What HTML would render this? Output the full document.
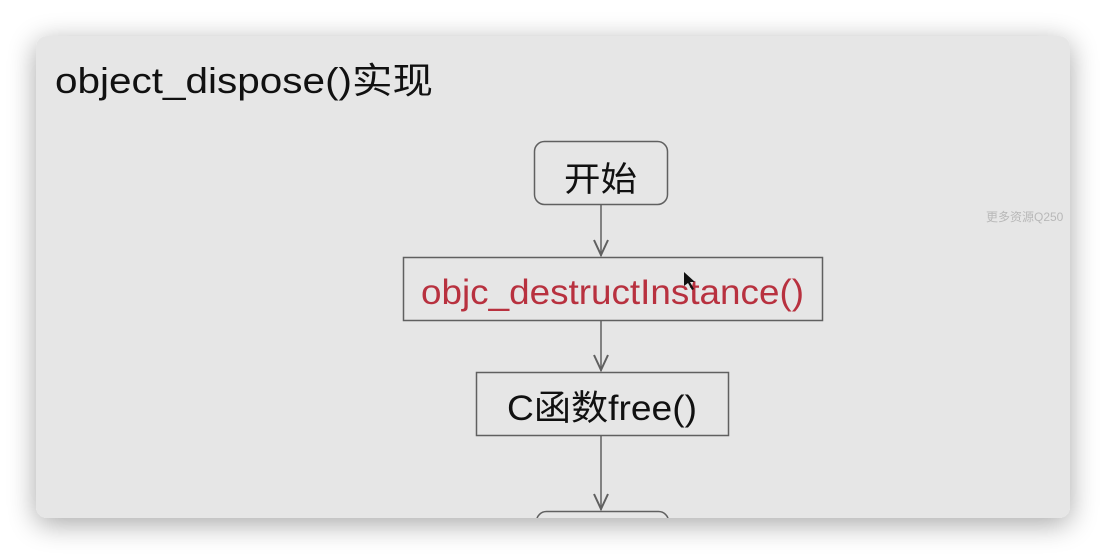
<!DOCTYPE html>
<html><head><meta charset="utf-8"><style>
html,body{margin:0;padding:0;width:1106px;height:554px;background:#fff;overflow:hidden}
</style></head><body>
<svg width="1106" height="554" xmlns="http://www.w3.org/2000/svg" style="display:block">
<defs>
<filter id="sh" x="-10%" y="-10%" width="120%" height="130%">
<feGaussianBlur in="SourceAlpha" stdDeviation="14"/>
<feOffset dy="6"/>
<feComponentTransfer><feFuncA type="linear" slope="0.35"/></feComponentTransfer>
<feMerge><feMergeNode/><feMergeNode in="SourceGraphic"/></feMerge>
</filter>
<clipPath id="cp"><rect x="36" y="36" width="1034" height="482" rx="11"/></clipPath>
</defs>
<rect x="36" y="36" width="1034" height="482" rx="11" fill="#e6e6e6" filter="url(#sh)"/>
<g clip-path="url(#cp)" font-family="'Liberation Sans','Noto Sans CJK SC',sans-serif">
<text x="55" y="93" font-size="36" fill="#111" textLength="378" lengthAdjust="spacingAndGlyphs">object_dispose()实现</text>
<text x="986" y="221" font-size="12" fill="#b8b8b8">更多资源Q250</text>
<g stroke="#606060" stroke-width="1.5" fill="none">
<rect x="534.5" y="141.5" width="133" height="63" rx="10"/>
<rect x="403.5" y="257.5" width="419" height="63"/>
<rect x="476.5" y="372.5" width="252" height="63"/>
<rect x="536.5" y="511.5" width="132" height="60" rx="10"/>
<line x1="601" y1="205" x2="601" y2="256"/>
<line x1="601" y1="321" x2="601" y2="371"/>
<line x1="601" y1="436" x2="601" y2="510"/>
<polyline points="594,240 601,255 608,240" stroke-width="2"/>
<polyline points="594,355 601,370 608,355" stroke-width="2"/>
<polyline points="594,494 601,509 608,494" stroke-width="2"/>
</g>
<text x="564" y="191" font-size="34" fill="#111" textLength="73" lengthAdjust="spacingAndGlyphs">开始</text>
<text x="421" y="304" font-size="35" fill="#b8313f" textLength="383" lengthAdjust="spacingAndGlyphs">objc_destructInstance()</text>
<text x="507" y="420" font-size="35" fill="#111" textLength="190" lengthAdjust="spacingAndGlyphs">C函数free()</text>
<polygon points="684,272 684,286 688,283 692,290 694,289 690,282 695,282" fill="#111"/>
</g>
</svg>
</body></html>
